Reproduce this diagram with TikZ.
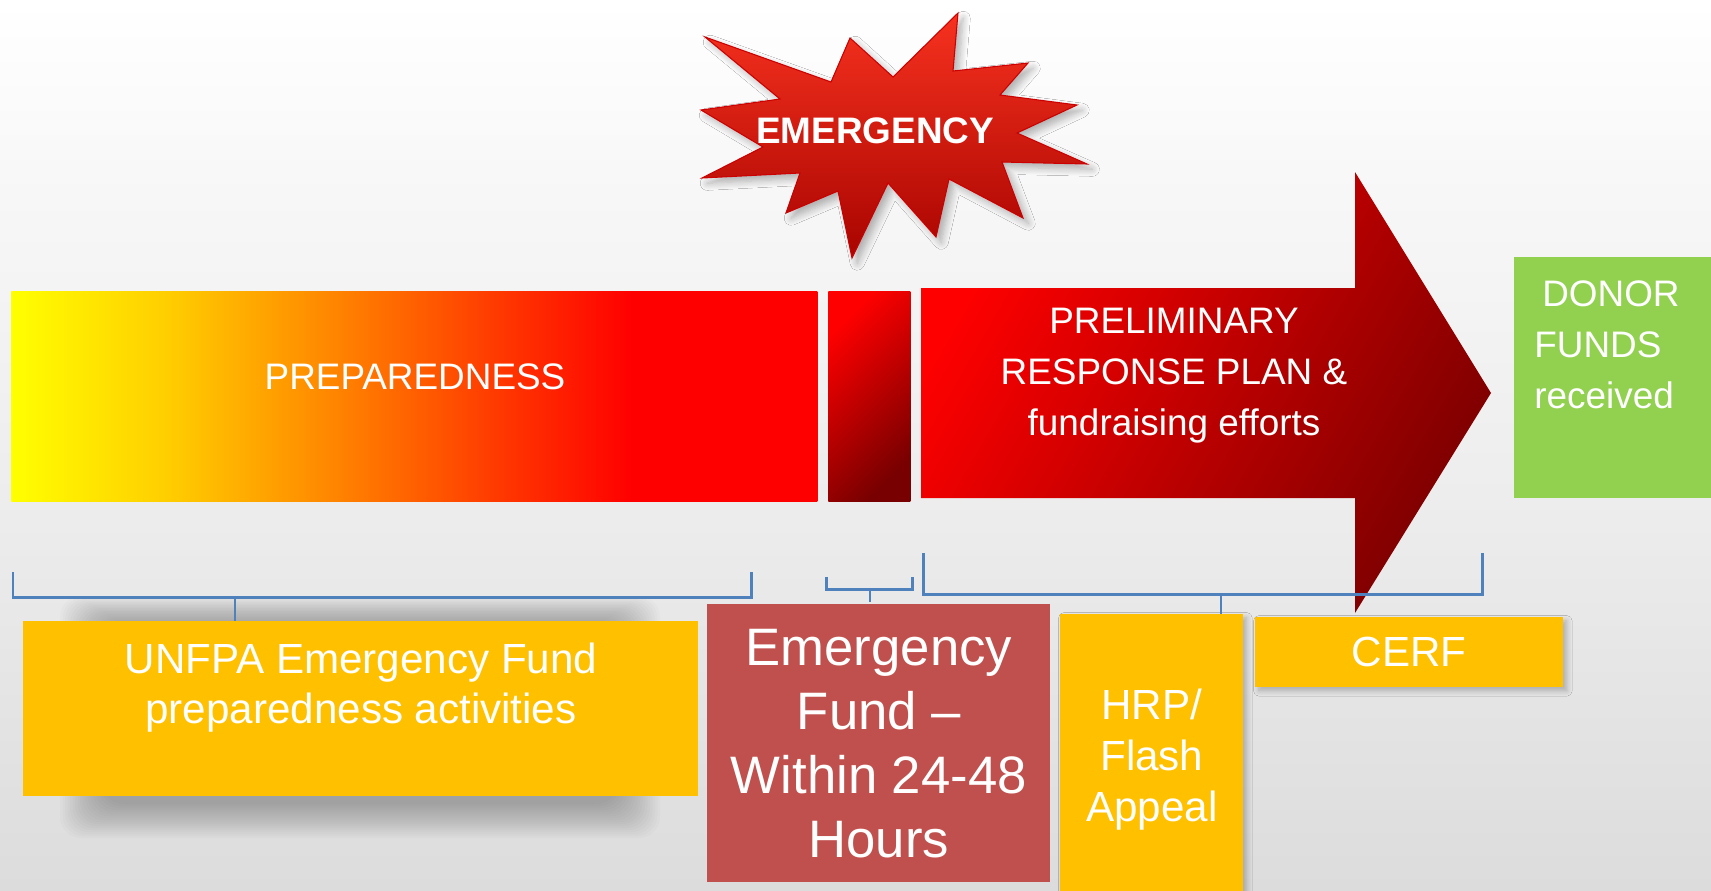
\documentclass[tikz,border=0pt]{standalone}
\usepackage{fontspec}
\setmainfont{Liberation Sans}
\usetikzlibrary{shadows.blur}
\definecolor{fundyellow}{HTML}{FFC000}
\definecolor{fundred}{HTML}{C0504D}
\definecolor{donorgreen}{HTML}{92D050}
\definecolor{bracketblue}{HTML}{4F81BD}
\definecolor{darkmaroon}{HTML}{780000}
\definecolor{arrowdark}{HTML}{7E0000}
\definecolor{burstlight}{HTML}{F7321F}
\definecolor{burstdark}{HTML}{A80400}
\definecolor{prepA}{HTML}{FFCC00}
\definecolor{prepB}{HTML}{FF8000}
\definecolor{prepC}{HTML}{FF3A00}
\definecolor{bgB}{HTML}{F7F7F7}
\definecolor{bgC}{HTML}{EDEDED}
\definecolor{bgD}{HTML}{DCDCDC}
\pgfdeclarehorizontalshading{prepshade}{100bp}{color(0bp)=(yellow); color(25bp)=(yellow); color(35bp)=(prepA); color(45.7bp)=(prepB); color(55bp)=(prepC); color(63.5bp)=(red); color(100bp)=(red)}
\pgfdeclareverticalshading{bgshade}{100bp}{color(0bp)=(bgD); color(25bp)=(bgD); color(47bp)=(bgC); color(64bp)=(bgB); color(75bp)=(white); color(100bp)=(white)}
\begin{document}
\begin{tikzpicture}[x=0.02cm,y=-0.02cm,
  bar/.style={anchor=north west,inner sep=0pt},
  fundbox/.style={anchor=north west,inner sep=0pt,text=white,align=center},
  whitetext/.style={text=white,align=center,inner sep=0pt},
  brk/.style={draw=bracketblue,line width=1.7pt},
  stem/.style={draw=bracketblue,line width=1.4pt},
  softshadow/.style={blur shadow={shadow xshift=#1,shadow yshift=-#1,shadow blur radius=3pt,shadow blur steps=8,shadow opacity=25}}]
\pgfmathsetmacro{\px}{0.02}
\useasboundingbox (0,0) rectangle (1711,890);
\shade[shading=bgshade] (0,0) rectangle (1711,890);
% starburst
\shade[top color=burstlight,bottom color=burstdark,draw=red!80!black,line width=0.6pt,
  blur shadow={shadow xshift=3pt,shadow yshift=-3pt,shadow blur radius=4pt,shadow blur steps=8,shadow opacity=30}]
  (958,13) -- (953,71) -- (1028,63) -- (1000,95) -- (1077,105) -- (1017,133)
  -- (1087,164) -- (1002,162) -- (1023,218) -- (949,179) -- (936,237) -- (888,183)
  -- (852,258) -- (838,191) -- (786,213) -- (800,173) -- (702,178) -- (763,147)
  -- (701,110) -- (780,99) -- (705,37) -- (831,82) -- (850,38) -- (893,77) -- cycle;
\node[whitetext,font=\bfseries\fontsize{21}{25}\selectfont] (emergency) at (875,131) {EMERGENCY};
% bars
\node[bar,shading=prepshade,minimum width={806*\px*1cm},minimum height={210*\px*1cm}] (prep) at (11,291) {};
\node[whitetext,font=\fontsize{21}{29}\selectfont] (prepT) at (415,377) {PREPAREDNESS};
\node[bar,top color=red,bottom color=darkmaroon,shading angle=45,minimum width={82*\px*1cm},minimum height={210*\px*1cm}] (gap) at (828,291) {};
\shade[top color=red,bottom color=arrowdark,shading angle=60]
  (921,288) -- (1355,288) -- (1355,172) -- (1491,393) -- (1355,613) -- (1355,498) -- (921,498) -- cycle;
\node[whitetext,font=\fontsize{21}{29}\selectfont] (prelim) at (1174,376) {PRELIMINARY\\RESPONSE PLAN \&\\fundraising efforts};
\node[bar,fill=donorgreen,minimum width={200*\px*1cm},minimum height={241*\px*1cm}] (donor) at (1514,257) {};
\node[whitetext,align=left,anchor=north west,font=\fontsize{21}{29}\selectfont] (donorT) at (1534,280) {\hspace*{4.5pt}DONOR\\FUNDS\\received};
% soft shadow under the preparedness box
\foreach \i in {0,...,17}
  \fill[black,opacity=0.014,rounded corners=12pt] ({60+\i*2.5},{596+\i*1.5}) rectangle ({660-\i*2.5},{838-\i*2});
% brackets
\draw[brk] (13,572) |- (751,597) coordinate[pos=0.75] (b1) -- (751,572);
\draw[brk] (826,577) |- (912,589) coordinate[pos=0.75] (b2) -- (912,577);
\draw[brk] (923,553) |- (1482,594) coordinate[pos=0.75] (b3) -- (1482,553);
% funding boxes
\node[fundbox,fill=fundyellow,minimum width={675*\px*1cm},minimum height={175*\px*1cm}] (uef) at (23,621) {};
\node[whitetext,font=\fontsize{24}{28.5}\selectfont] (uefT) at (361,688) {UNFPA Emergency Fund\\preparedness activities};
\node[fundbox,fill=fundred,minimum width={343*\px*1cm},minimum height={278*\px*1cm},font=\fontsize{30}{36.4}\selectfont] (ef) at (707,604) {Emergency\\Fund --\\Within 24-48\\Hours};
\node[fundbox,fill=fundyellow,minimum width={183*\px*1cm},minimum height={290*\px*1cm},font=\fontsize{24}{29}\selectfont,softshadow=2pt] (hrp) at (1060,614) {HRP/\\Flash\\Appeal};
\node[fundbox,fill=fundyellow,minimum width={308*\px*1cm},minimum height={70*\px*1cm},font=\fontsize{24}{29}\selectfont,softshadow=2pt] (cerf) at (1255,617) {CERF};
% bracket stems
\draw[stem] (b1 -| 235,0) -- (uef.north -| 235,0);
\draw[stem] (b2 -| 870,0) -- (870,602);
\draw[stem] (b3 -| 1221,0) -- (hrp.north -| 1221,0);
\end{tikzpicture}
\end{document}
